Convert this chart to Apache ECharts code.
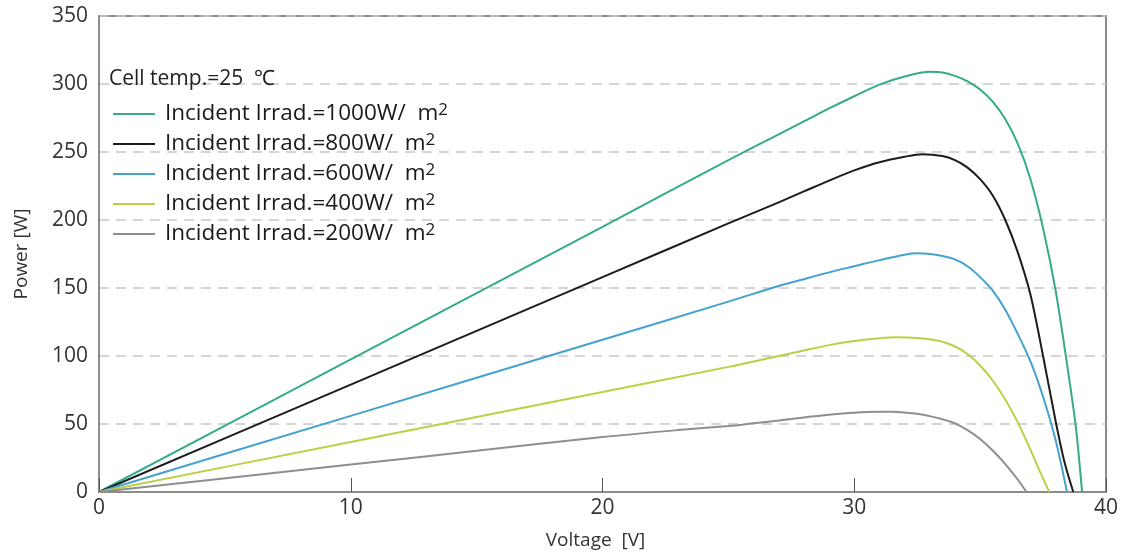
<html>
<head>
    <meta charset="utf-8">
    <script src="https://cdn.jsdelivr.net/npm/echarts@6/dist/echarts.min.js"></script>
</head>
<body style="margin:0;background:#fff">
<div id="main" style="width:1124px;height:556px;"></div>
<script type="text/javascript">
    // P-V curves, [voltage V, power W]
    var irr1000 = [[0,0],[10,97.5],[20,195],[25,244],[27,263],[28,272.5],[29,282],[30,291],[31,299.5],[32,305.5],[33,309],[33.5,308.5],[34,306],[34.5,302],[35,296],[35.5,287],[36,274],[36.5,256],[37,230],[37.5,194],[38,148],[38.5,88],[38.8,48],[39.05,0]];
    var irr800 = [[0,0],[10,79],[20,158],[25,197.5],[27,213],[28,221],[29,229],[30,236.5],[31,242.5],[32,246.5],[32.7,248.3],[33.5,247],[34,244],[34.5,238.5],[35,230],[35.5,218],[36,200],[36.5,176],[37,145],[37.5,100],[38,52],[38.35,22],[38.7,0]];
    var irr600 = [[0,0],[10,56],[20,112],[25,140],[27,151.5],[28,156.5],[29,161.5],[30,166],[31,170.5],[32,174.5],[32.5,175.5],[33,175],[33.5,173.5],[34,171],[34.5,166],[35,158],[35.5,148],[36,134],[36.5,116],[37,96],[37.5,70],[38,38],[38.45,0]];
    var irr400 = [[0,0],[10,36.8],[20,73.6],[25,92],[27,100],[28,104],[29,108],[30,111],[31,113],[31.7,113.7],[32.5,113.3],[33,112.3],[33.5,110.5],[34,107],[34.5,101.5],[35,93],[35.5,82],[36,68],[36.5,51],[37,31],[37.4,14],[37.75,0]];
    var irr200 = [[0,0],[10,20.2],[15,30.3],[20,40.4],[23,45.5],[25,48.5],[26,50.5],[27,52.5],[28,54.8],[29,56.8],[30,58.3],[31,59],[31.5,59],[32,58.5],[32.5,57.5],[33,55.8],[33.5,53.5],[34,50.5],[34.5,45.5],[35,39],[35.5,30.5],[36,20.5],[36.5,9],[36.84,0]];

    var seriesNames = ['1000', '800', '600', '400', '200'];
    var seriesData = [irr1000, irr800, irr600, irr400, irr200];
    var colors = ['#35ab8c', '#1c1c1c', '#45a2cf', '#bccf45', '#8e8e8e'];

    var myChart = echarts.init(document.getElementById('main'));

    var series = [];
    for (var i = 0; i < seriesData.length; i++) {
        series.push({
            name: seriesNames[i],
            type: 'line',
            data: seriesData[i],
            symbol: 'none',
            smooth: 0.3,
            lineStyle: {width: 2, color: colors[i]},
            itemStyle: {color: colors[i]}
        });
    }

    var option = {
        animation: false,
        textStyle: {fontFamily: 'Open Sans'},
        title: {
            text: 'Cell temp.=25  ℃',
            left: 104,
            top: 64,
            textStyle: {fontSize: 21, fontWeight: 'normal', color: '#222', fontFamily: 'Open Sans'}
        },
        legend: {
            orient: 'vertical',
            left: 108,
            top: 97,
            icon: 'rect',
            itemWidth: 42,
            itemHeight: 2,
            itemGap: 6,
            data: seriesNames,
            formatter: function (name) {
                return 'Incident Irrad.=' + name + 'W/  m{sup|2}';
            },
            textStyle: {
                fontSize: 22.5,
                color: '#1a1a1a',
                lineHeight: 24,
                padding: [0, 0, 0, 5],
                fontFamily: 'Open Sans',
                rich: {
                    sup: {fontSize: 17, verticalAlign: 'top', lineHeight: 24, color: '#1a1a1a', padding: [0, 0, 6, 0]}
                }
            }
        },
        grid: {
            left: 99,
            right: 18,
            top: 16,
            bottom: 64,
            show: true,
            borderColor: '#8c8c8c',
            borderWidth: 2
        },
        xAxis: {
            type: 'value',
            min: 0,
            max: 40,
            interval: 10,
            name: 'Voltage  [V]',
            nameLocation: 'middle',
            nameGap: 39,
            nameTextStyle: {fontSize: 19, color: '#333', padding: [0, 14, 0, 0]},
            axisLine: {lineStyle: {color: '#8c8c8c', width: 2}},
            axisTick: {inside: true, length: 14, lineStyle: {color: '#555', width: 1}},
            axisLabel: {fontSize: 21, color: '#333', margin: 6},
            splitLine: {show: false}
        },
        yAxis: {
            type: 'value',
            min: 0,
            max: 350,
            interval: 50,
            name: 'Power [W]',
            nameLocation: 'middle',
            nameGap: 68,
            nameTextStyle: {fontSize: 19, color: '#333'},
            axisLine: {show: true, lineStyle: {color: '#8c8c8c', width: 2}},
            axisTick: {show: false},
            axisLabel: {fontSize: 21, color: '#333', margin: 11},
            splitLine: {lineStyle: {color: '#c8c8c8', width: 1.5, type: [10, 7]}}
        },
        series: series
    };

    myChart.setOption(option);
</script>
</body>
</html>
